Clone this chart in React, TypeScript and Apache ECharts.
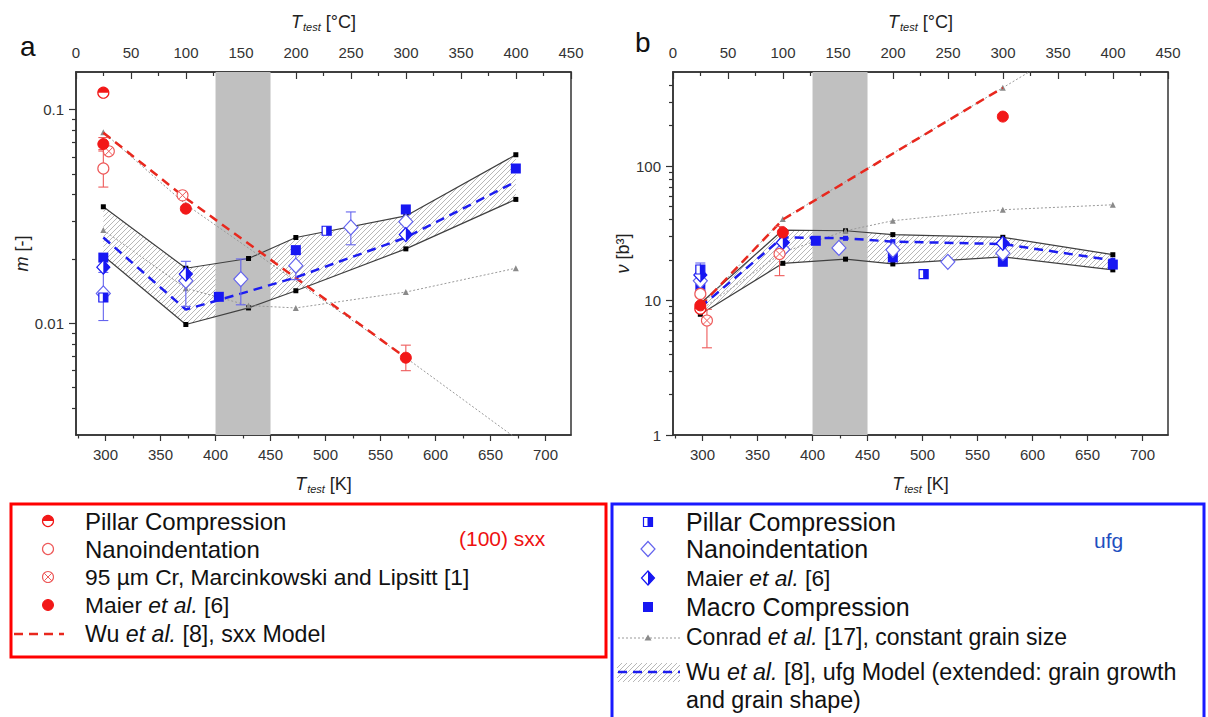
import React, { useEffect, useRef } from 'react';
import * as echarts from 'echarts';

// ---------------- axis tick values ----------------
const K0 = 273.15;
const kelvinTicks = [300, 350, 400, 450, 500, 550, 600, 650, 700];
const kelvinMinorTicks = [275, 325, 375, 425, 475, 525, 575, 625, 675];
const mTicks = [0.01, 0.1];
const mMinorTicks = [0.004, 0.005, 0.006, 0.007, 0.008, 0.009, 0.02, 0.03, 0.04, 0.05, 0.06, 0.07, 0.08, 0.09];
const vTicks = [1, 10, 100];
const vMinorTicks = [2, 3, 4, 5, 6, 7, 8, 9, 20, 30, 40, 50, 60, 70, 80, 90, 200, 300, 400];
const shadedRangeK = [400, 450];

// ---------------- panel a : m [-] ----------------
const A_pillarSxx = [[298, 0.12]];
const A_nanoSxx = [[298, 0.053]];
const A_nanoSxxErr = [[298, 0.0434, 0.064]];
const A_crossSxx = [[303, 0.0638], [370, 0.0397]];
const A_maierSxx = [[298, 0.069], [373, 0.0344], [573, 0.0069]];
const A_maierSxxErr = [[298, 0.065, 0.074], [573, 0.006, 0.0079]];
const A_wuSxx = [[298, 0.078], [373, 0.0385], [573, 0.0069]];
const A_conradSxx = [[298, 0.0784], [373, 0.036], [573, 0.0069], [673, 0.0029]];
const A_conradUfg = [[298, 0.0273], [373, 0.0146], [430, 0.0121], [473, 0.0118], [573, 0.014], [673, 0.0181]];
const A_bandUpper = [[298, 0.0351], [373, 0.0181], [430, 0.0201], [473, 0.0252], [573, 0.0318], [673, 0.0615]];
const A_bandLower = [[298, 0.0207], [373, 0.00987], [430, 0.0118], [473, 0.0142], [573, 0.0223], [673, 0.038]];
const A_wuUfg = [[298, 0.0252], [373, 0.0116], [430, 0.0141], [473, 0.0164], [573, 0.0252], [673, 0.046]];
const A_pillarUfg = [[298, 0.0132], [501, 0.0271]];
const A_nanoUfg = [[298, 0.0138], [373, 0.0158], [423, 0.0161], [473, 0.0186], [523, 0.0281], [573, 0.0299]];
const A_nanoUfgErr = [[298, 0.0103, 0.0173], [373, 0.012, 0.0195], [423, 0.0122, 0.02], [473, 0.016, 0.021], [523, 0.0233, 0.0332]];
const A_maierUfg = [[298, 0.0183], [373, 0.017], [573, 0.026]];
const A_macroUfg = [[298, 0.0203], [403, 0.0133], [473, 0.022], [573, 0.0341], [673, 0.053]];

// ---------------- panel b : v [b^3] ----------------
const B_pillarSxx = [[298, 8.7]];
const B_nanoSxx = [[298, 11.2]];
const B_crossSxx = [[304, 7.1], [370, 22.2]];
const B_crossSxxErr = [[304, 4.45, 8.6], [370, 15.3, 35.5]];
const B_maierSxx = [[298, 9.2], [373, 32], [573, 233]];
const B_wuSxx = [[298, 9.1], [373, 40], [573, 382]];
const B_conradSxx = [[298, 9.0], [373, 40.4], [573, 382], [673, 1180]];
const B_conradUfg = [[298, 8.5], [373, 22.8], [430, 33], [473, 39.2], [573, 47.3], [673, 51.5]];
const B_bandUpper = [[298, 9.5], [373, 33.4], [430, 33], [473, 30.9], [573, 29.5], [673, 21.9]];
const B_bandLower = [[298, 7.9], [373, 18.9], [430, 20.3], [473, 18.7], [573, 21.1], [673, 16.9]];
const B_wuUfg = [[298, 8.9], [373, 29.5], [430, 29], [473, 27.4], [573, 26.3], [673, 19.9]];
const B_pillarUfg = [[298, 17], [501, 15.7]];
const B_pillarUfgErr = [[298, 15.5, 19]];
const B_nanoUfg = [[298, 14], [373, 24], [424, 24.6], [473, 23.8], [523, 19.4], [573, 22.5]];
const B_maierUfg = [[298, 15.5], [373, 27], [573, 26.6]];
const B_macroUfg = [[298, 12.5], [403, 27.8], [473, 20.9], [573, 19.4], [673, 18.5]];

// ---------------- styles ----------------
const F = '"Liberation Sans", Arial, Helvetica, sans-serif';
const AX = '#333333';
const LBL = '#333333';
const RED = '#f21818';
const RED_L = '#ee5a5a';
const BLUE = '#1717f2';
const BLUE_L = '#6464ee';
const GRAY = '#999999';

function makeHatch() {
  const c = document.createElement('canvas');
  c.width = 5;
  c.height = 5;
  const g = c.getContext('2d') as CanvasRenderingContext2D;
  g.strokeStyle = '#a6a6a6';
  g.lineWidth = 0.8;
  g.beginPath();
  g.moveTo(-1, 6); g.lineTo(6, -1);
  g.moveTo(-1, 1); g.lineTo(1, -1);
  g.moveTo(4, 6); g.lineTo(6, 4);
  g.stroke();
  return c;
}

function markerEls(kind: string, x: number, y: number): any[] {
  const r = 5.5;
  switch (kind) {
    case 'sxxPillar':
      return [
        { type: 'circle', shape: { cx: x, cy: y, r }, style: { fill: '#fff', stroke: RED, lineWidth: 1.2 } },
        { type: 'sector', shape: { cx: x, cy: y, r0: 0, r, startAngle: Math.PI, endAngle: Math.PI * 2, clockwise: true }, style: { fill: RED } },
      ];
    case 'sxxNano':
      return [{ type: 'circle', shape: { cx: x, cy: y, r }, style: { fill: '#fff', stroke: RED_L, lineWidth: 1.2 } }];
    case 'sxxCross': {
      const d = 3.6;
      return [
        { type: 'circle', shape: { cx: x, cy: y, r }, style: { fill: '#fff', stroke: RED_L, lineWidth: 1.1 } },
        { type: 'line', shape: { x1: x - d, y1: y - d, x2: x + d, y2: y + d }, style: { stroke: RED_L, lineWidth: 1 } },
        { type: 'line', shape: { x1: x - d, y1: y + d, x2: x + d, y2: y - d }, style: { stroke: RED_L, lineWidth: 1 } },
      ];
    }
    case 'sxxMaier':
      return [{ type: 'circle', shape: { cx: x, cy: y, r }, style: { fill: RED, stroke: RED, lineWidth: 1 } }];
    case 'ufgPillar':
      return [
        { type: 'rect', shape: { x: x - 4.5, y: y - 4.5, width: 9, height: 9 }, style: { fill: '#fff', stroke: BLUE, lineWidth: 1.2 } },
        { type: 'rect', shape: { x: x - 0.5, y: y - 4.5, width: 5, height: 9 }, style: { fill: BLUE } },
      ];
    case 'ufgNano':
      return [{ type: 'polygon', shape: { points: [[x, y - 7.5], [x + 7, y], [x, y + 7.5], [x - 7, y]] }, style: { fill: '#fff', stroke: BLUE_L, lineWidth: 1.2 } }];
    case 'ufgMaier':
      return [
        { type: 'polygon', shape: { points: [[x, y - 7], [x + 6.5, y], [x, y + 7], [x - 6.5, y]] }, style: { fill: '#fff', stroke: BLUE, lineWidth: 1.2 } },
        { type: 'polygon', shape: { points: [[x, y - 7], [x + 6.5, y], [x, y + 7]] }, style: { fill: BLUE } },
      ];
    case 'ufgMacro':
      return [{ type: 'rect', shape: { x: x - 5, y: y - 5, width: 10, height: 10 }, style: { fill: BLUE } }];
    default:
      return [];
  }
}

function markerSeries(data: number[][], kind: string, xi: number, yi: number) {
  return {
    type: 'custom', xAxisIndex: xi, yAxisIndex: yi, z: 6, silent: true, clip: false,
    data, encode: { x: 0, y: 1 },
    renderItem: (params: any, api: any) => {
      const p = api.coord([api.value(0), api.value(1)]);
      return { type: 'group', children: markerEls(kind, p[0], p[1]) };
    },
  };
}

function errSeries(data: number[][], color: string, xi: number, yi: number) {
  return {
    type: 'custom', xAxisIndex: xi, yAxisIndex: yi, z: 5, silent: true,
    data, encode: { x: 0, y: [1, 2] },
    renderItem: (params: any, api: any) => {
      const x = api.value(0);
      const lo = api.coord([x, api.value(1)]);
      const hi = api.coord([x, api.value(2)]);
      const w = 5;
      const st = { stroke: color, lineWidth: 1.1 };
      return {
        type: 'group',
        children: [
          { type: 'line', shape: { x1: lo[0], y1: lo[1], x2: hi[0], y2: hi[1] }, style: st },
          { type: 'line', shape: { x1: lo[0] - w, y1: lo[1], x2: lo[0] + w, y2: lo[1] }, style: st },
          { type: 'line', shape: { x1: hi[0] - w, y1: hi[1], x2: hi[0] + w, y2: hi[1] }, style: st },
        ],
      };
    },
  };
}

function lineSeries(data: number[][], xi: number, yi: number, o: any) {
  return { type: 'line', data, xAxisIndex: xi, yAxisIndex: yi, silent: true, ...o };
}

function panelSeries(xi: number, yi: number, p: any, hatchFill: any) {
  const band = p.upper.map((u: number[], i: number) => [u[0], p.lower[i][1], u[1]]);
  const s: any[] = [];
  s.push({
    type: 'custom', xAxisIndex: xi, yAxisIndex: yi, z: 1, silent: true,
    data: band, encode: { x: 0, y: [1, 2] },
    renderItem: (params: any, api: any) => {
      if (params.dataIndex !== 0) return null;
      const top = band.map((r: number[]) => api.coord([r[0], r[2]]));
      const bot = band.map((r: number[]) => api.coord([r[0], r[1]])).reverse();
      return { type: 'polygon', shape: { points: top.concat(bot) }, style: { fill: hatchFill, stroke: null } };
    },
  });
  s.push({
    type: 'custom', xAxisIndex: xi, yAxisIndex: yi, z: 2, silent: true,
    data: [[shadedRangeK[0], shadedRangeK[1], p.yMid]], encode: { x: [0, 1], y: 2 },
    renderItem: (params: any, api: any) => {
      const cs = params.coordSys;
      const x0 = api.coord([api.value(0), p.yMid])[0];
      const x1 = api.coord([api.value(1), p.yMid])[0];
      return { type: 'rect', shape: { x: x0, y: cs.y, width: x1 - x0, height: cs.height }, style: { fill: '#c0c0c0' } };
    },
  });
  const blackLine = { symbol: 'rect', symbolSize: 5, z: 3, lineStyle: { color: '#404040', width: 1.2 }, itemStyle: { color: '#000' } };
  s.push(lineSeries(p.upper, xi, yi, blackLine));
  s.push(lineSeries(p.lower, xi, yi, blackLine));
  const conrad = { symbol: 'triangle', symbolSize: 6, z: 3, lineStyle: { color: GRAY, width: 1, type: [2, 2] }, itemStyle: { color: '#8a8a8a' } };
  s.push(lineSeries(p.conradUfg, xi, yi, conrad));
  s.push(lineSeries(p.conradSxx, xi, yi, conrad));
  s.push(lineSeries(p.wuSxx, xi, yi, { symbol: 'none', z: 4, lineStyle: { color: '#e8281e', width: 2.5, type: [9, 6] } }));
  s.push(lineSeries(p.wuUfg, xi, yi, {
    symbol: p.wuUfgSymbol ? 'rect' : 'none', symbolSize: 5, z: 4,
    lineStyle: { color: '#1c1cf0', width: 2.5, type: [9, 6] }, itemStyle: { color: '#1c1cf0' },
  }));
  p.errs.forEach((e: any) => s.push(errSeries(e[0], e[1], xi, yi)));
  p.markers.forEach((m: any) => s.push(markerSeries(m[0], m[1], xi, yi)));
  return s;
}

function nameStyle(size: number) {
  return {
    fontSize: size, color: '#222', fontFamily: F,
    rich: {
      i: { fontStyle: 'italic', fontSize: size, fontFamily: F, color: '#222' },
      s: { fontStyle: 'italic', fontSize: Math.round(size * 0.62), fontFamily: F, color: '#222', padding: [10, 0, 0, 1] },
      n: { fontSize: size, fontFamily: F, color: '#222' },
    },
  };
}

function xAxesFor(gi: number) {
  const common = { gridIndex: gi, type: 'value', min: K0, max: K0 + 450, splitLine: { show: false } };
  return [
    {
      ...common, position: 'bottom',
      name: '{i|T}{s|test} [K]', nameLocation: 'middle', nameGap: 38, nameTextStyle: nameStyle(18),
      axisLine: { show: true, onZero: false, lineStyle: { color: AX, width: 1.5 } },
      axisTick: { show: true, customValues: kelvinTicks, length: 6, lineStyle: { color: AX, width: 1.2 } },
      axisLabel: { show: true, customValues: kelvinTicks, margin: 12, color: LBL, fontSize: 15, fontFamily: F },
    },
    {
      ...common, position: 'bottom',
      axisLine: { show: false, onZero: false }, axisLabel: { show: false },
      axisTick: { show: true, customValues: kelvinMinorTicks, length: 3.5, lineStyle: { color: AX, width: 1.2 } },
    },
    {
      gridIndex: gi, type: 'value', position: 'top', min: 0, max: 450, interval: 50,
      name: '{i|T}{s|test} [°C]', nameLocation: 'middle', nameGap: 40, nameTextStyle: nameStyle(18),
      splitLine: { show: false },
      axisLine: { show: true, onZero: false, lineStyle: { color: AX, width: 1.5 } },
      axisTick: { show: true, inside: true, length: 7, lineStyle: { color: AX, width: 1.2 } },
      minorTick: { show: true, splitNumber: 2, length: 4, lineStyle: { color: AX, width: 1.2 } },
      axisLabel: { show: true, margin: 12, color: LBL, fontSize: 15, fontFamily: F },
    },
  ];
}

function fmtLog(v: number) {
  return v >= 1 ? String(Math.round(v)) : String(+v.toPrecision(2));
}

function yAxesFor(gi: number, min: number, max: number, majors: number[], minors: number[], name: string, nameGap: number) {
  return [
    {
      gridIndex: gi, type: 'log', logBase: 10, position: 'left', min, max,
      name, nameLocation: 'middle', nameGap, nameTextStyle: nameStyle(18),
      splitLine: { show: false },
      axisLine: { show: true, onZero: false, lineStyle: { color: AX, width: 1.5 } },
      axisTick: { show: true, customValues: majors, length: 7, lineStyle: { color: AX, width: 1.2 } },
      axisLabel: { show: true, customValues: majors, margin: 12, color: LBL, fontSize: 15, fontFamily: F, formatter: (v: number) => fmtLog(v) },
    },
    {
      gridIndex: gi, type: 'log', logBase: 10, position: 'left', min, max,
      splitLine: { show: false },
      axisLine: { show: false, onZero: false }, axisLabel: { show: false },
      axisTick: { show: true, customValues: minors, length: 4, lineStyle: { color: AX, width: 1.2 } },
    },
  ];
}

function txt(x: number, y: number, text: string, size: number, extra?: any) {
  return {
    type: 'text', x, y, silent: true,
    style: {
      text, fontSize: size, fontFamily: F, fill: '#111', verticalAlign: 'middle', align: 'left',
      rich: {
        n: { fontSize: size, fontFamily: F, fill: '#111' },
        i: { fontSize: size, fontFamily: F, fill: '#111', fontStyle: 'italic' },
      },
      ...(extra || {}),
    },
  };
}

function legendGraphics(hatchFill: any) {
  const g: any[] = [];
  // panel letters
  g.push({ type: 'text', x: 20, y: 46, silent: true, style: { text: 'a', fontSize: 28, fontFamily: F, fill: '#111', verticalAlign: 'middle' } });
  g.push({ type: 'text', x: 635, y: 42, silent: true, style: { text: 'b', fontSize: 28, fontFamily: F, fill: '#111', verticalAlign: 'middle' } });
  // left legend box
  g.push({ type: 'rect', silent: true, shape: { x: 11, y: 504, width: 595, height: 153 }, style: { fill: 'none', stroke: '#ff0000', lineWidth: 3 } });
  const lx = 48, tx = 85;
  g.push({ type: 'group', children: markerEls('sxxPillar', lx, 521) });
  g.push(txt(tx, 521, 'Pillar Compression', 24));
  g.push({ type: 'group', children: markerEls('sxxNano', lx, 549) });
  g.push(txt(tx, 549, 'Nanoindentation', 24));
  g.push({ type: 'group', children: markerEls('sxxCross', lx, 577) });
  g.push(txt(tx, 577, '95 µm Cr, Marcinkowski and Lipsitt [1]', 22.8));
  g.push({ type: 'group', children: markerEls('sxxMaier', lx, 605) });
  g.push(txt(tx, 605, '{n|Maier }{i|et al.}{n| [6]}', 22.8));
  g.push({ type: 'line', silent: true, shape: { x1: 14, y1: 634, x2: 64, y2: 634 }, style: { stroke: '#e8281e', lineWidth: 2.5, lineDash: [9, 6] } });
  g.push(txt(tx, 634, '{n|Wu }{i|et al.}{n| [8], sxx Model}', 23.2));
  g.push({ type: 'text', x: 459, y: 538, silent: true, style: { text: '(100) sxx', fontSize: 21, fontFamily: F, fill: '#ee1111', verticalAlign: 'middle' } });

  // right legend box
  g.push({ type: 'rect', silent: true, shape: { x: 612, y: 504, width: 592, height: 240 }, style: { fill: 'none', stroke: '#1a1aff', lineWidth: 3 } });
  const rx = 648, rtx = 686;
  g.push({ type: 'group', children: markerEls('ufgPillar', rx, 522) });
  g.push(txt(rtx, 522, 'Pillar Compression', 25));
  g.push({ type: 'group', children: markerEls('ufgNano', rx, 549) });
  g.push(txt(rtx, 549, 'Nanoindentation', 25));
  g.push({ type: 'group', children: markerEls('ufgMaier', rx, 578) });
  g.push(txt(rtx, 578, '{n|Maier }{i|et al.}{n| [6]}', 22.8));
  g.push({ type: 'group', children: markerEls('ufgMacro', rx, 607) });
  g.push(txt(rtx, 607, 'Macro Compression', 25));
  g.push({ type: 'line', silent: true, shape: { x1: 618, y1: 638, x2: 680, y2: 638 }, style: { stroke: GRAY, lineWidth: 1, lineDash: [2, 2] } });
  g.push({ type: 'polygon', silent: true, shape: { points: [[648, 634.5], [651.5, 640.5], [644.5, 640.5]] }, style: { fill: '#8a8a8a' } });
  g.push(txt(rtx, 637, '{n|Conrad }{i|et al.}{n| [17], constant grain size}', 23));
  g.push({ type: 'rect', silent: true, shape: { x: 617, y: 663, width: 63, height: 19 }, style: { fill: hatchFill } });
  g.push({ type: 'line', silent: true, shape: { x1: 618, y1: 672, x2: 680, y2: 672 }, style: { stroke: '#1c1cf0', lineWidth: 2.5, lineDash: [9, 6] } });
  g.push(txt(rtx, 672, '{n|Wu }{i|et al.}{n| [8], ufg Model (extended: grain growth}', 23.3));
  g.push(txt(rtx, 700, 'and grain shape)', 23.3));
  g.push({ type: 'text', x: 1094, y: 540, silent: true, style: { text: 'ufg', fontSize: 21, fontFamily: F, fill: '#1f4fc0', verticalAlign: 'middle' } });
  return g;
}

function buildOption(hatchCanvas: any) {
  const hatchFill = { image: hatchCanvas, repeat: 'repeat', imageWidth: 5, imageHeight: 5 };
  const panelA = {
    upper: A_bandUpper, lower: A_bandLower, yMid: 0.02,
    conradUfg: A_conradUfg, conradSxx: A_conradSxx, wuSxx: A_wuSxx, wuUfg: A_wuUfg, wuUfgSymbol: false,
    errs: [[A_nanoSxxErr, RED_L], [A_maierSxxErr, RED_L], [A_nanoUfgErr, BLUE_L]],
    markers: [
      [A_pillarSxx, 'sxxPillar'], [A_nanoSxx, 'sxxNano'], [A_crossSxx, 'sxxCross'], [A_maierSxx, 'sxxMaier'],
      [A_macroUfg, 'ufgMacro'], [A_nanoUfg, 'ufgNano'], [A_maierUfg, 'ufgMaier'], [A_pillarUfg, 'ufgPillar'],
    ],
  };
  const panelB = {
    upper: B_bandUpper, lower: B_bandLower, yMid: 20,
    conradUfg: B_conradUfg, conradSxx: B_conradSxx, wuSxx: B_wuSxx, wuUfg: B_wuUfg, wuUfgSymbol: true,
    errs: [[B_crossSxxErr, RED_L], [B_pillarUfgErr, BLUE_L]],
    markers: [
      [B_macroUfg, 'ufgMacro'], [B_nanoUfg, 'ufgNano'], [B_maierUfg, 'ufgMaier'], [B_pillarUfg, 'ufgPillar'],
      [B_nanoSxx, 'sxxNano'], [B_crossSxx, 'sxxCross'], [B_pillarSxx, 'sxxPillar'], [B_maierSxx, 'sxxMaier'],
    ],
  };
  return {
    animation: false,
    backgroundColor: '#ffffff',
    grid: [
      { left: 76, top: 72, width: 495, height: 363, show: true, borderColor: AX, borderWidth: 1.5, backgroundColor: 'transparent' },
      { left: 673, top: 72, width: 495, height: 363, show: true, borderColor: AX, borderWidth: 1.5, backgroundColor: 'transparent' },
    ],
    xAxis: [...xAxesFor(0), ...xAxesFor(1)],
    yAxis: [
      ...yAxesFor(0, 0.003, 0.15, mTicks, mMinorTicks, '{i|m} [-]', 36),
      ...yAxesFor(1, 1, 500, vTicks, vMinorTicks, '{i|ν} [b³]', 40),
    ],
    series: [...panelSeries(0, 0, panelA, hatchFill), ...panelSeries(3, 2, panelB, hatchFill)],
    graphic: { elements: legendGraphics(hatchFill) },
  };
}

export default function App() {
  const ref = useRef<HTMLDivElement>(null);
  useEffect(() => {
    if (!ref.current) return;
    const chart = echarts.init(ref.current, undefined, { renderer: 'svg' });
    chart.setOption(buildOption(makeHatch()) as any);
    return () => chart.dispose();
  }, []);
  return (
    <div
      ref={ref}
      style={{ position: 'absolute', left: 0, top: 0, width: 1208, height: 717, background: '#fff' }}
    />
  );
}
